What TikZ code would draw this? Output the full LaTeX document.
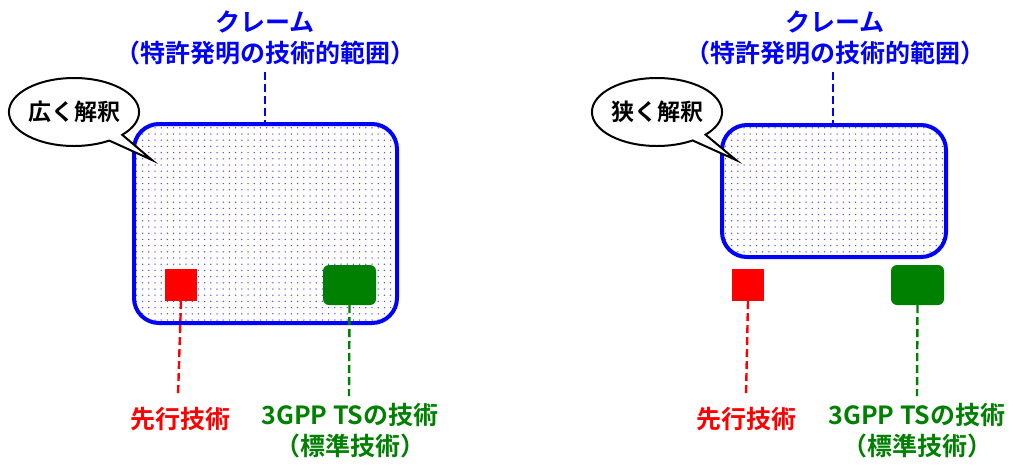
\documentclass[tikz,border=0pt]{standalone}
\usepackage{fontspec}
\newfontfamily\jp{Noto Sans CJK JP}[BoldFont={* Bold}]
\usetikzlibrary{shapes.callouts,patterns.meta}
\definecolor{myblue}{RGB}{0,0,255}
\definecolor{myred}{RGB}{255,0,0}
\definecolor{mygreen}{RGB}{0,128,0}
\tikzset{
  txt/.style={font=\jp\bfseries\fontsize{25}{31}\selectfont, align=center, inner sep=0pt},
  claimbox/.style={draw=myblue, line width=4pt, rounded corners=25pt,
    pattern={Dots[distance=6.2pt, radius=0.75pt]}, pattern color=myblue!70},
  redsq/.style={fill=myred, draw=none},
  greensq/.style={fill=mygreen, draw=none, rounded corners=6pt},
  bubble/.style={ellipse callout, draw=black, line width=2pt, fill=white,
    minimum width=130pt, minimum height=68pt, inner sep=0pt,
    font=\jp\bfseries\fontsize{23}{28}\selectfont},
  dashblue/.style={draw=myblue, line width=2.4pt, dash pattern=on 8pt off 4pt},
  dashred/.style={draw=myred, line width=2.4pt, dash pattern=on 8pt off 4pt},
  dashgreen/.style={draw=mygreen, line width=2.4pt, dash pattern=on 8pt off 4pt},
}
\begin{document}
\begin{tikzpicture}[x=1pt,y=-1pt]
\useasboundingbox (0,0) rectangle (1024,475);
% ---------- left panel ----------
\node[txt, text=myblue] (tL) at (265,38) {クレーム\\（特許発明の技術的範囲）};
\path[claimbox] (134,124) rectangle (397,323);
\coordinate (cLtop) at (265,124);
\draw[dashblue] (265,72) -- (cLtop);
\node[redsq, minimum width=32pt, minimum height=32pt, inner sep=0pt] (rL) at (181,285) {};
\node[greensq, minimum width=53pt, minimum height=40pt, inner sep=0pt] (gL) at (349.5,285) {};
\node[txt, text=myred] (pL) at (180,419) {先行技術};
\node[txt, text=mygreen, anchor=north] (sL) at (350,403) {3GPP TSの技術\\（標準技術）};
\draw[dashred] (rL.south) -- (178,396);
\draw[dashgreen] (gL.south) -- (349,396);
\node[bubble, callout absolute pointer={(152,160)}] (bL) at (74,112) {広く解釈};
% ---------- right panel ----------
\node[txt, text=myblue] (tR) at (835,38) {クレーム\\（特許発明の技術的範囲）};
\path[claimbox] (722,125) rectangle (946,257);
\coordinate (cRtop) at (833,125);
\draw[dashblue] (833,72) -- (cRtop);
\node[redsq, minimum width=32pt, minimum height=32pt, inner sep=0pt] (rR) at (748,285) {};
\node[greensq, minimum width=53pt, minimum height=40pt, inner sep=0pt] (gR) at (917.5,285) {};
\node[txt, text=myred] (pR) at (746,419) {先行技術};
\node[txt, text=mygreen, anchor=north] (sR) at (917,403) {3GPP TSの技術\\（標準技術）};
\draw[dashred] (rR.south) -- (746,396);
\draw[dashgreen] (gR.south) -- (917,396);
\node[bubble, callout absolute pointer={(736,160)}] (bR) at (657,112) {狭く解釈};
\end{tikzpicture}
\end{document}
